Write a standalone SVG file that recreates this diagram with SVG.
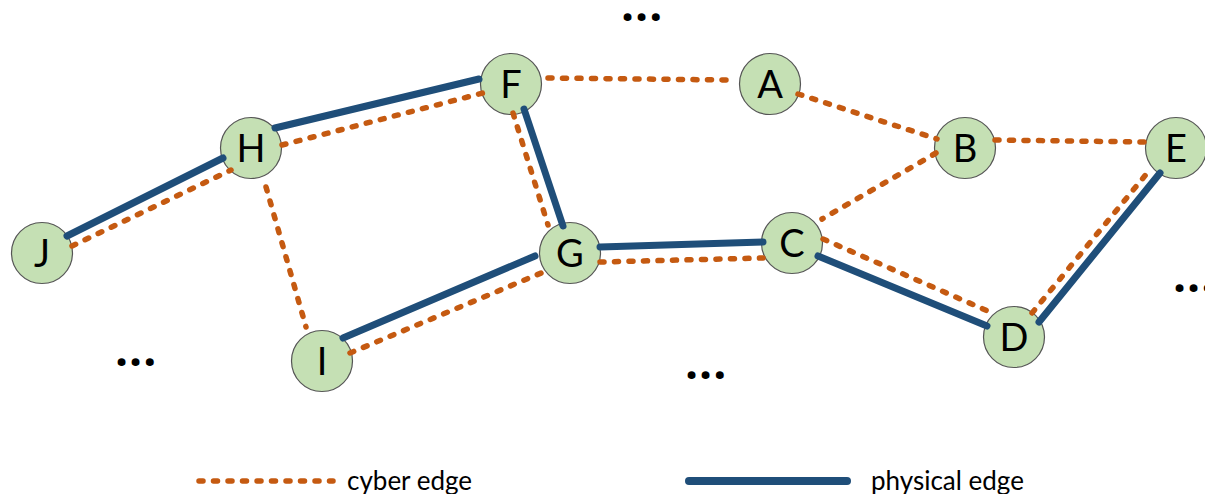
<svg xmlns="http://www.w3.org/2000/svg" width="1205" height="494" viewBox="0 0 1205 494">
  <style>
    .node circle { fill: #C5E0B4; stroke: #555555; stroke-width: 1.2; }
    .node text { font-family: Lato, "Open Sans", "Liberation Sans", sans-serif; font-size: 38px; fill: #000; text-anchor: middle; }
    .cyber { stroke: #C55A11; stroke-width: 5.5; stroke-linecap: round; stroke-dasharray: 4 10.5; fill: none; }
    .physical { stroke: #1F4E79; stroke-width: 7; stroke-linecap: round; fill: none; }
    .dots { font-family: "Open Sans", "Liberation Sans", sans-serif; font-weight: 700; font-size: 46px; letter-spacing: 1px; fill: #000; }
    .legend-text { font-family: Lato, "Open Sans", "Liberation Sans", sans-serif; font-size: 26px; fill: #000; }
  </style>

  <rect width="1205" height="494" fill="#ffffff"/>

  <!-- nodes -->
  <g id="node-F" class="node"><circle cx="511" cy="84" r="30.5"/><text x="511" y="97.5">F</text></g>
  <g id="node-A" class="node"><circle cx="770" cy="84" r="30.5"/><text x="770" y="97.5">A</text></g>
  <g id="node-B" class="node"><circle cx="965" cy="148" r="30.5"/><text x="965" y="161.5">B</text></g>
  <g id="node-E" class="node"><circle cx="1176" cy="148" r="30.5"/><text x="1176" y="161.5">E</text></g>
  <g id="node-H" class="node"><circle cx="251" cy="148" r="30.5"/><text x="251" y="161.5">H</text></g>
  <g id="node-J" class="node"><circle cx="42" cy="253" r="30.5"/><text x="42" y="266.5">J</text></g>
  <g id="node-G" class="node"><circle cx="570" cy="253" r="30.5"/><text x="570" y="266.5">G</text></g>
  <g id="node-C" class="node"><circle cx="792" cy="243" r="30.5"/><text x="792" y="256.5">C</text></g>
  <g id="node-D" class="node"><circle cx="1014" cy="337" r="30.5"/><text x="1014" y="350.5">D</text></g>
  <g id="node-I" class="node"><circle cx="322" cy="361" r="30.5"/><text x="322" y="374.5">I</text></g>

  <!-- connectors -->
  <g id="connectors">
    <!-- cyber edges -->
    <line class="cyber" x1="72" y1="246" x2="231" y2="170"/>
    <line class="cyber" x1="282" y1="145" x2="483" y2="93"/>
    <line class="cyber" x1="266" y1="187" x2="306" y2="327"/>
    <line class="cyber" x1="513" y1="113" x2="548" y2="225"/>
    <line class="cyber" x1="548" y1="78" x2="731" y2="80"/>
    <line class="cyber" x1="798" y1="94" x2="937" y2="139"/>
    <line class="cyber" x1="995" y1="140" x2="1147" y2="142"/>
    <line class="cyber" x1="936" y1="153" x2="822" y2="219"/>
    <line class="cyber" x1="600" y1="262" x2="763" y2="258"/>
    <line class="cyber" x1="350" y1="353" x2="546" y2="271"/>
    <line class="cyber" x1="823" y1="239" x2="990" y2="312"/>
    <line class="cyber" x1="1032" y1="313" x2="1148" y2="172"/>
    <!-- physical edges -->
    <line class="physical" x1="67" y1="236" x2="223" y2="158"/>
    <line class="physical" x1="275" y1="128" x2="479" y2="79"/>
    <line class="physical" x1="524" y1="109" x2="563" y2="226"/>
    <line class="physical" x1="600" y1="247" x2="763" y2="242"/>
    <line class="physical" x1="343" y1="338" x2="535" y2="256"/>
    <line class="physical" x1="818" y1="256" x2="987" y2="326"/>
    <line class="physical" x1="1039" y1="322" x2="1160" y2="173"/>
  </g>

  <!-- continuation marks -->
  <text class="dots" x="621" y="21">...</text>
  <text class="dots" x="115" y="366">...</text>
  <text class="dots" x="685" y="379">...</text>
  <text class="dots" x="1173" y="292">...</text>

  <!-- legend -->
  <g id="legend">
    <line class="cyber" x1="199" y1="481" x2="333" y2="481"/>
    <text class="legend-text" x="347" y="490">cyber edge</text>
    <line class="physical" x1="689" y1="481" x2="847" y2="481" style="stroke-width:8"/>
    <text class="legend-text" x="871" y="490">physical edge</text>
  </g>
</svg>
